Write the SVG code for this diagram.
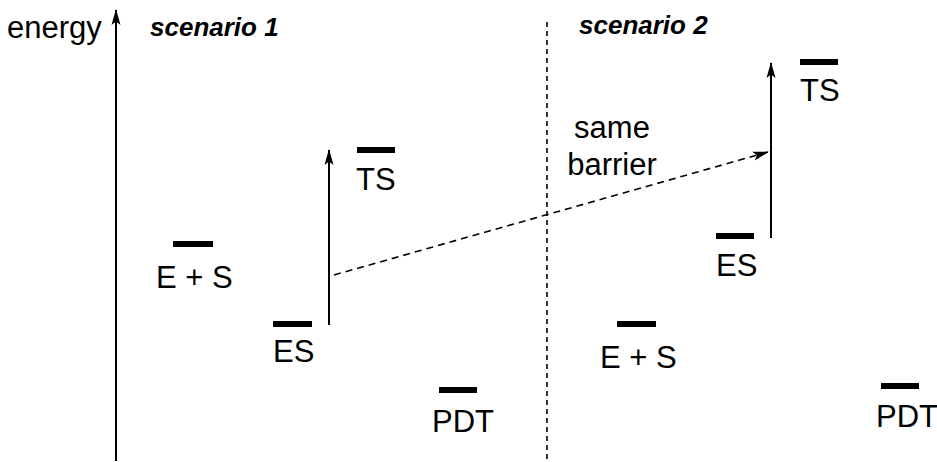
<svg xmlns="http://www.w3.org/2000/svg" width="937" height="462" viewBox="0 0 937 462">
<style>
.lbl{font-family:"Liberation Sans",Arial,sans-serif;font-size:31px;fill:#000}
.scn{font-family:"Liberation Sans",Arial,sans-serif;font-size:26px;font-weight:bold;font-style:italic;fill:#000}
.bar{fill:#000}
.solid{stroke:#000;stroke-width:2;fill:none}
.dash{stroke:#000;stroke-width:1.6;fill:none}
</style>
<defs>
<marker id="ah" markerUnits="userSpaceOnUse" viewBox="0 0 16 10" refX="15" refY="5" markerWidth="16" markerHeight="10" orient="auto">
<path d="M0,0.5 L16,5 L0,9.5 L3.5,5 Z" fill="#000"/>
</marker>
</defs>
<rect width="937" height="462" fill="#fff"/>
<g id="axis">
<line class="solid" x1="116" y1="461" x2="116" y2="10" marker-end="url(#ah)"/>
<text class="lbl" x="7" y="38">energy</text>
</g>
<g id="titles">
<text class="scn" x="150" y="36">scenario 1</text>
<text class="scn" x="579" y="34">scenario 2</text>
</g>
<g id="divider">
<line class="dash" x1="547" y1="22" x2="547" y2="462" stroke-dasharray="5,4"/>
</g>
<g id="s1-ES0">
<rect class="bar" x="173" y="241" width="40" height="6"/>
<text class="lbl" x="156" y="288">E + S</text>
</g>
<g id="s1-ES">
<rect class="bar" x="273" y="321" width="39" height="6"/>
<text class="lbl" x="273" y="362">ES</text>
</g>
<g id="s1-TS">
<rect class="bar" x="357" y="147" width="38" height="6"/>
<text class="lbl" x="356" y="190">TS</text>
</g>
<g id="s1-PDT">
<rect class="bar" x="439" y="387" width="38" height="6"/>
<text class="lbl" x="432" y="432">PDT</text>
</g>
<g id="s2-ES0">
<rect class="bar" x="617" y="321" width="39" height="6"/>
<text class="lbl" x="600" y="368">E + S</text>
</g>
<g id="s2-ES">
<rect class="bar" x="716" y="233" width="38" height="6"/>
<text class="lbl" x="716" y="276">ES</text>
</g>
<g id="s2-TS">
<rect class="bar" x="800" y="59" width="38" height="6"/>
<text class="lbl" x="800" y="101">TS</text>
</g>
<g id="s2-PDT">
<rect class="bar" x="881" y="383" width="38" height="6"/>
<text class="lbl" x="876" y="427">PDT</text>
</g>
<g id="note">
<text class="lbl" x="612" y="138" text-anchor="middle">same</text>
<text class="lbl" x="612" y="175" text-anchor="middle">barrier</text>
</g>
<g id="connectors">
<line class="solid" x1="329" y1="325" x2="329" y2="150" marker-end="url(#ah)"/>
<line class="solid" x1="771" y1="238" x2="771" y2="63" marker-end="url(#ah)"/>
<line class="dash" x1="334" y1="275" x2="768" y2="152" stroke-dasharray="7,5" marker-end="url(#ah)"/>
</g>
</svg>
